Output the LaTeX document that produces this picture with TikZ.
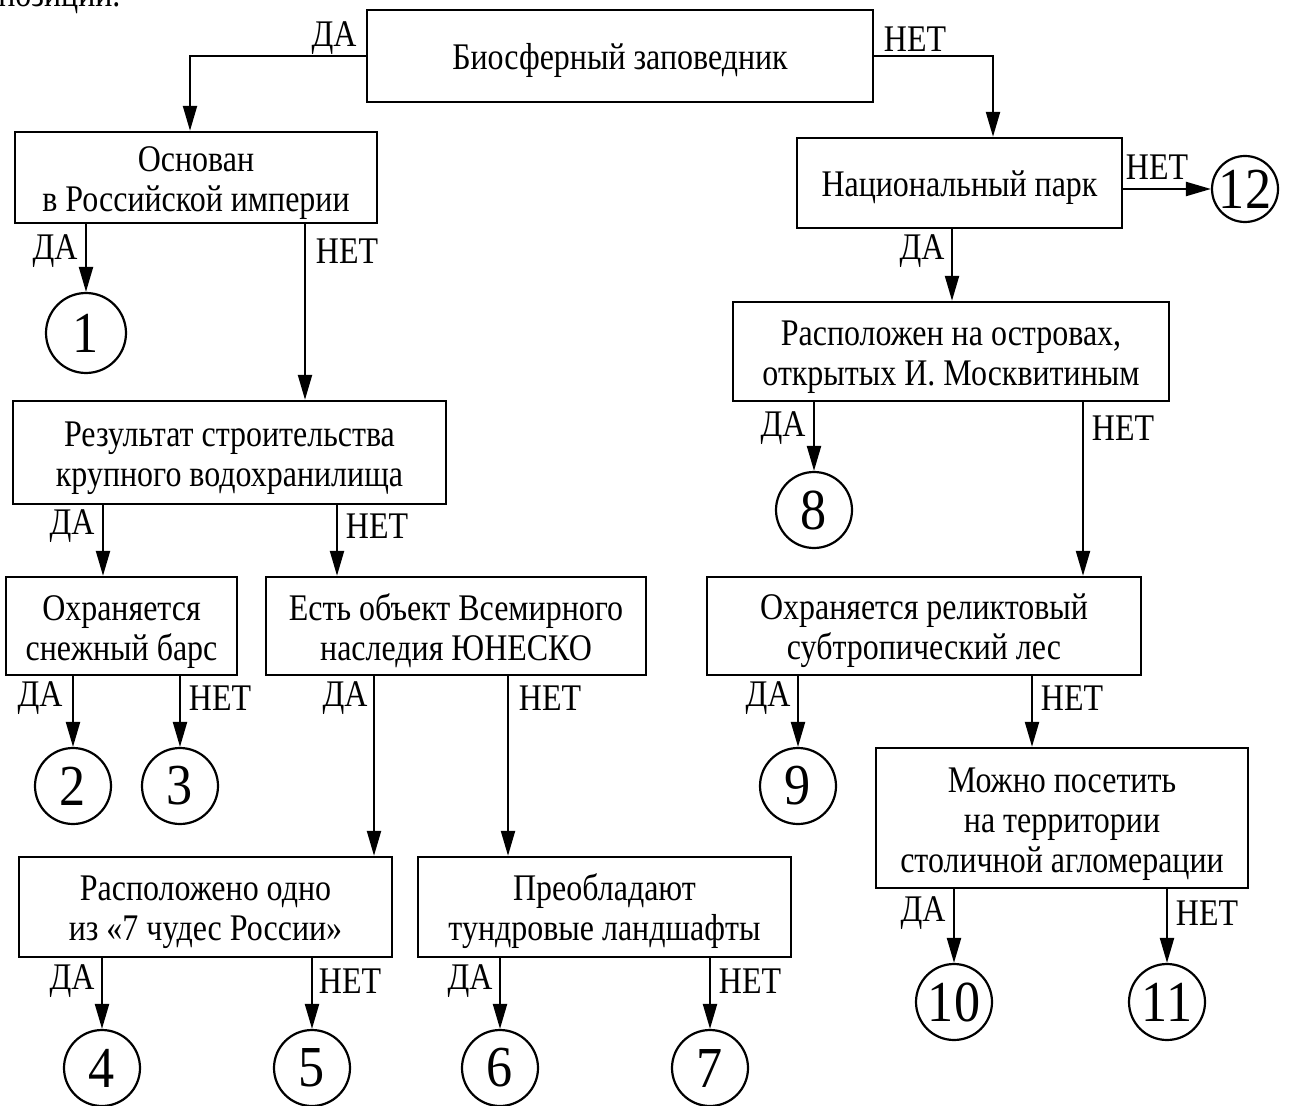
\documentclass[tikz,border=0pt]{standalone}
\usepackage{fontspec}
\setmainfont{Liberation Serif}
\newfontfamily\narrowserif[FakeStretch=0.85]{Liberation Serif}
\newfontfamily\narrowdigits[FakeStretch=0.9]{Liberation Serif}
\newcommand\firstline{\rule{0pt}{18pt}}
\usetikzlibrary{arrows.meta}
\begin{document}
\begin{tikzpicture}[x=0.5pt,y=-0.5pt,
  box/.style={draw, line width=1.2pt, align=center, inner sep=0pt, font=\narrowserif\fontsize{18.8}{20}\selectfont},
  circ/.style={draw, circle, line width=1.1pt, inner sep=0pt, minimum size=38pt, font=\narrowdigits\fontsize{29}{29}\selectfont},
  lbl/.style={inner sep=0pt, font=\narrowserif\fontsize{18.8}{20}\selectfont},
  arr/.style={line width=1.1pt, -{Triangle[length=12.5pt,width=7pt]}}]
\useasboundingbox (0,0) rectangle (1299,1106);
\node[lbl, anchor=base west] (top) at (-2,7) {позиции.};
% boxes
\node[box, minimum width=253pt, minimum height=46pt] (bA) at (620,56) {\firstline Биосферный заповедник};
\node[box, minimum width=181pt, minimum height=45.5pt] (bB) at (196,177.5) {\firstline Основан\\в Российской империи};
\node[box, minimum width=216.5pt, minimum height=51.5pt] (bC) at (229.5,452.5) {\firstline Результат строительства\\крупного водохранилища};
\node[box, minimum width=115.5pt, minimum height=49pt] (bD) at (121.5,626) {\firstline Охраняется\\снежный барс};
\node[box, minimum width=190pt, minimum height=49pt] (bE) at (456,626) {\firstline Есть объект Всемирного\\наследия ЮНЕСКО};
\node[box, minimum width=186.5pt, minimum height=50pt] (bF) at (205.5,907) {\firstline Расположено одно\\из «7 чудес России»};
\node[box, minimum width=186.5pt, minimum height=50pt] (bG) at (604.5,907) {\firstline Преобладают\\тундровые ландшафты};
\node[box, minimum width=162.5pt, minimum height=45pt] (bH) at (959.5,183) {\firstline Национальный парк};
\node[box, minimum width=218pt, minimum height=49.5pt] (bI) at (951,351.5) {\firstline Расположен на островах,\\открытых И. Москвитиным};
\node[box, minimum width=217pt, minimum height=49pt] (bJ) at (924,626) {\firstline Охраняется реликтовый\\субтропический лес};
\node[box, minimum width=186pt, minimum height=70pt] (bK) at (1062,818) {\firstline Можно посетить\\на территории\\столичной агломерации};
% circles
\node[circ, minimum size=40pt] (c1) at (86,333) {1};
\node[circ] (c2) at (73,786) {2};
\node[circ] (c3) at (180,786) {3};
\node[circ] (c4) at (102,1068) {4};
\node[circ] (c5) at (312,1068) {5};
\node[circ] (c6) at (500,1068) {6};
\node[circ] (c7) at (710,1068) {7};
\node[circ] (c8) at (814,510) {8};
\node[circ] (c9) at (798,786) {9};
\node[circ] (c10) at (954,1002) {10};
\node[circ] (c11) at (1167,1002) {11};
\node[circ, minimum size=33pt] (c12) at (1245,189) {12};
% line positions
\coordinate (xa) at (190,0);
\coordinate (xb) at (993,0);
\coordinate (xc) at (305,0);
\coordinate (xd) at (103,0);
\coordinate (xe) at (337,0);
\coordinate (xf) at (374,0);
\coordinate (xg) at (508,0);
\coordinate (xh) at (952,0);
\coordinate (xi) at (1083,0);
\coordinate (xj) at (1032,0);
% connectors
\draw[arr] (bA.west) -| (xa |- bB.north);
\draw[arr] (bA.east) -| (xb |- bH.north);
\draw[arr] (bB.south -| c1) -- (c1.north);
\draw[arr] (bB.south -| xc) -- (xc |- bC.north);
\draw[arr] (bC.south -| xd) -- (xd |- bD.north);
\draw[arr] (bC.south -| xe) -- (xe |- bE.north);
\draw[arr] (bD.south -| c2) -- (c2.north);
\draw[arr] (bD.south -| c3) -- (c3.north);
\draw[arr] (bE.south -| xf) -- (xf |- bF.north);
\draw[arr] (bE.south -| xg) -- (xg |- bG.north);
\draw[arr] (bF.south -| c4) -- (c4.north);
\draw[arr] (bF.south -| c5) -- (c5.north);
\draw[arr] (bG.south -| c6) -- (c6.north);
\draw[arr] (bG.south -| c7) -- (c7.north);
\draw[arr] (bH.east |- c12) -- (c12.west);
\draw[arr] (bH.south -| xh) -- (xh |- bI.north);
\draw[arr] (bI.south -| c8) -- (c8.north);
\draw[arr] (bI.south -| xi) -- (xi |- bJ.north);
\draw[arr] (bJ.south -| c9) -- (c9.north);
\draw[arr] (bJ.south -| xj) -- (xj |- bK.north);
\draw[arr] (bK.south -| c10) -- (c10.north);
\draw[arr] (bK.south -| c11) -- (c11.north);
% labels
\node[lbl] (lA1) at (334,38) {ДА};
\node[lbl] (lA2) at (915,39) {НЕТ};
\node[lbl] (lB1) at (55,251) {ДА};
\node[lbl] (lB2) at (347,251) {НЕТ};
\node[lbl] (lC1) at (72,526) {ДА};
\node[lbl] (lC2) at (377,526) {НЕТ};
\node[lbl] (lD1) at (40,698) {ДА};
\node[lbl] (lD2) at (220,698) {НЕТ};
\node[lbl] (lE1) at (345,698) {ДА};
\node[lbl] (lE2) at (550,698) {НЕТ};
\node[lbl] (lF1) at (72,981) {ДА};
\node[lbl] (lF2) at (350,981) {НЕТ};
\node[lbl] (lG1) at (470,981) {ДА};
\node[lbl] (lG2) at (750,981) {НЕТ};
\node[lbl] (lH2) at (1157,167) {НЕТ};
\node[lbl] (lH1) at (922,251) {ДА};
\node[lbl] (lI1) at (783,428) {ДА};
\node[lbl] (lI2) at (1123,428) {НЕТ};
\node[lbl] (lJ1) at (768,698) {ДА};
\node[lbl] (lJ2) at (1072,698) {НЕТ};
\node[lbl] (lK1) at (923,913) {ДА};
\node[lbl] (lK2) at (1207,913) {НЕТ};
\end{tikzpicture}
\end{document}
